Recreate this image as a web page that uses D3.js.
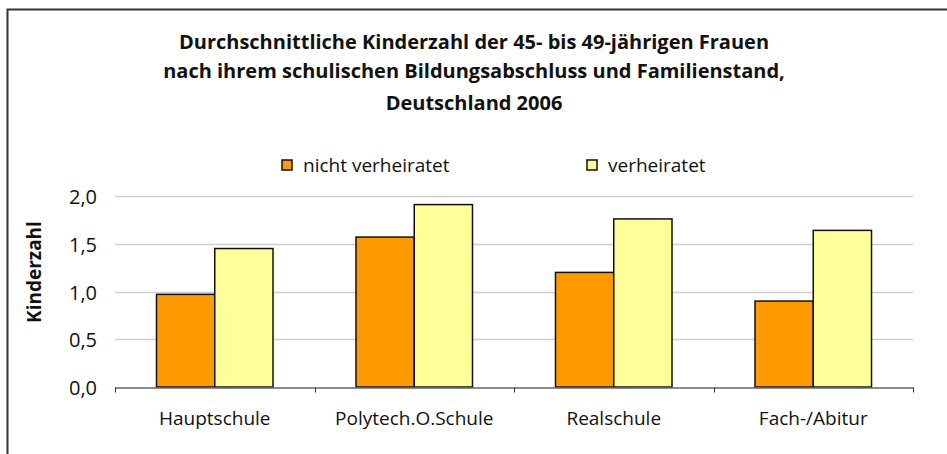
<!DOCTYPE html>
<html>
<head>
<meta charset="utf-8">
<script src="https://cdn.jsdelivr.net/npm/d3@7"></script>
<style>
  body { margin: 0; background: #fff; }
  text { font-family: "Open Sans", "DejaVu Sans", sans-serif; fill: #111; }
</style>
</head>
<body>
<div class="chart"></div>
<script>
'use strict';

var categories = ['Hauptschule', 'Polytech.O.Schule', 'Realschule', 'Fach-/Abitur'];
var seriesNames = ['nicht verheiratet', 'verheiratet'];
var notMarried = [0.97, 1.57, 1.20, 0.90];
var married = [1.45, 1.91, 1.76, 1.64];
var yTicks = [0, 0.5, 1.0, 1.5, 2.0];
var titleLines = [
  'Durchschnittliche Kinderzahl der 45- bis 49-jährigen Frauen',
  'nach ihrem schulischen Bildungsabschluss und Familienstand,',
  'Deutschland 2006'
];
var colors = ['#ff9900', '#ffff99'];

var W = 947, H = 454;
var margin = {top: 196, right: 34, bottom: 67, left: 115},
  width = W - margin.left - margin.right,
  height = H - margin.top - margin.bottom;

var svg = d3.select('.chart').append('svg')
  .attr('width', W)
  .attr('height', H);

// frame (top + left edge only visible)
svg.append('path')
  .attr('d', 'M7.5,' + H + 'V9.5H' + W)
  .attr('fill', 'none')
  .attr('stroke', '#333')
  .attr('stroke-width', 2);

svg.append('g').selectAll('text')
  .data(titleLines)
  .enter().append('text')
  .attr('x', 474)
  .attr('y', function(d, i) { return [49, 78, 110][i]; })
  .attr('text-anchor', 'middle')
  .style('font-size', '20px')
  .style('font-weight', 'bold')
  .text(function(d) { return d; });

var g = svg.append('g')
  .attr('transform', 'translate(' + margin.left + ',' + margin.top + ')');

var x0 = d3.scaleBand()
  .domain(categories)
  .range([0, width])
  .paddingInner(0.416)
  .paddingOuter(0.208);

var x1 = d3.scaleBand()
  .domain(seriesNames)
  .range([0, x0.bandwidth()]);

var y = d3.scaleLinear()
  .domain([0, 2])
  .range([height, 0]);

// grid
g.append('g').selectAll('line')
  .data(yTicks.slice(1))
  .enter().append('line')
  .attr('x1', 0)
  .attr('x2', width)
  .attr('y1', function(d) { return Math.round(y(d)) + 0.5; })
  .attr('y2', function(d) { return Math.round(y(d)) + 0.5; })
  .attr('stroke', '#d0d0d0')
  .attr('stroke-width', 1.5);

// y labels
var yAxis = g.append('g')
  .call(d3.axisLeft(y).tickValues(yTicks).tickSize(0).tickPadding(18)
    .tickFormat(function(d) { return d3.format('.1f')(d).replace('.', ','); }));
yAxis.select('.domain').remove();
yAxis.selectAll('text')
  .style('font-size', '20px')
  .style('font-family', '"Open Sans", sans-serif')
  .attr('dy', '0.38em')
  .attr('fill', '#111');

var bands = g.selectAll('.cat')
  .data(categories)
  .enter().append('g')
  .attr('class', 'cat')
  .attr('transform', function(d) { return 'translate(' + x0(d) + ',0)'; });

bands.selectAll('rect')
  .data(function(d, i) {
    return [
      {name: seriesNames[0], value: notMarried[i], c: colors[0]},
      {name: seriesNames[1], value: married[i], c: colors[1]}
    ];
  })
  .enter().append('rect')
  .attr('x', function(d) { return x1(d.name); })
  .attr('width', x1.bandwidth())
  .attr('y', function(d) { return y(d.value); })
  .attr('height', function(d) { return height - y(d.value); })
  .attr('fill', function(d) { return d.c; })
  .attr('stroke', '#111')
  .attr('stroke-width', 1.5);

// x axis
var xAxis = g.append('g')
  .attr('transform', 'translate(0,' + (height + 0.5) + ')')
  .call(d3.axisBottom(x0).tickSize(0).tickPadding(24));
xAxis.select('.domain').attr('stroke', '#666').attr('stroke-width', 1.5);
xAxis.selectAll('text')
  .style('font-size', '19px')
  .style('font-family', '"Open Sans", sans-serif')
  .attr('fill', '#111');

var edges = [0].concat(categories.map(function(d) { return x0(d) - x0.step() * x0.paddingOuter() + x0.step(); }));
xAxis.selectAll('.sep')
  .data(edges)
  .enter().append('line')
  .attr('class', 'sep')
  .attr('x1', function(d) { return Math.round(d) + 0.5; })
  .attr('x2', function(d) { return Math.round(d) + 0.5; })
  .attr('y1', 0)
  .attr('y2', 5)
  .attr('stroke', '#333');

// y title
svg.append('text')
  .attr('transform', 'translate(41,272) rotate(-90)')
  .attr('text-anchor', 'middle')
  .style('font-size', '19px')
  .style('font-weight', 'bold')
  .text('Kinderzahl');

// legend
var legend = svg.append('g').selectAll('g')
  .data(seriesNames)
  .enter().append('g')
  .attr('transform', function(d, i) { return 'translate(' + [282, 587][i] + ',160)'; });
legend.append('rect')
  .attr('width', 10)
  .attr('height', 10)
  .attr('fill', function(d, i) { return colors[i]; })
  .attr('stroke', '#111')
  .attr('stroke-width', 1.5);
legend.append('text')
  .attr('x', 21)
  .attr('y', 12)
  .style('font-size', '19px')
  .text(function(d) { return d; });
</script>
</body>
</html>
